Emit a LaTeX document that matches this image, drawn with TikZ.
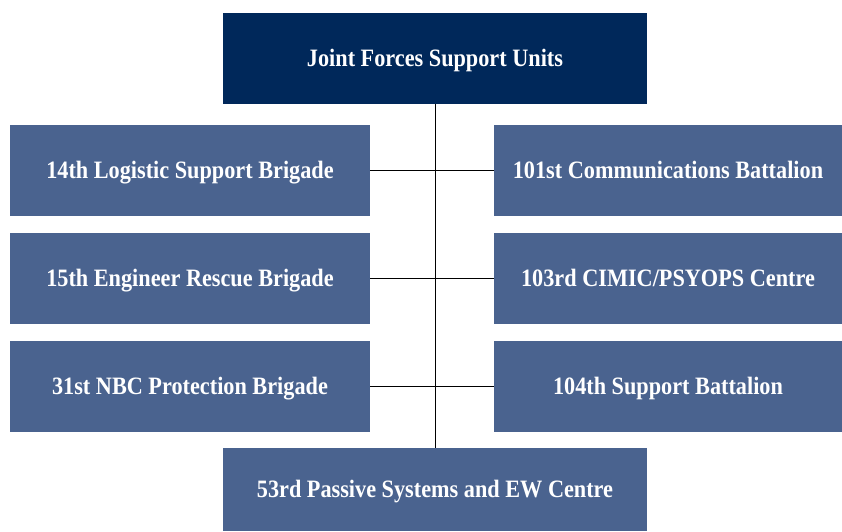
\documentclass[tikz,border=0pt]{standalone}
\usepackage{fontspec}
\setmainfont{Liberation Serif}[FakeStretch=0.89]
\usepackage{xcolor}
\usepackage{tikz}
\usetikzlibrary{positioning}

\definecolor{navy}{HTML}{00285A}
\definecolor{unitblue}{HTML}{4A638F}

\tikzset{
	unitbox/.style={fill=unitblue, text=white, font=\fontsize{25}{28}\selectfont\bfseries, inner sep=0pt, text height=16pt, text depth=0pt},
	headbox/.style={unitbox, fill=navy},
	link/.style={draw=black, line width=0.8pt}
}

\begin{document}
\begin{tikzpicture}[x=1pt, y=-1pt]
	\useasboundingbox (0,0) rectangle (842,531);

	% head and bottom units
	\node[headbox, minimum width=424pt, minimum height=91pt] (head) at (435,58.5) {Joint Forces Support Units};
	\node[unitbox, minimum width=424pt, minimum height=83pt] (ew) at (435,489.5) {53rd Passive Systems and EW Centre};

	% left column
	\foreach \a [count=\i] in {14th Logistic Support Brigade, 15th Engineer Rescue Brigade, 31st NBC Protection Brigade} {
		\node[unitbox, minimum width=360pt, minimum height=91pt] (l\i) at (190,62.5+108*\i) {\a};
	}

	% right column
	\foreach \b [count=\j] in {101st Communications Battalion, 103rd CIMIC/PSYOPS Centre, 104th Support Battalion} {
		\node[unitbox, minimum width=348pt, minimum height=91pt] (r\j) at (668,62.5+108*\j) {\b};
	}

	% connectors
	\draw[link] (head.south) -- (ew.north);
	\foreach \i in {1,2,3} {
		\draw[link] (l\i.east) -- (r\i.west);
	}
\end{tikzpicture}
\end{document}
